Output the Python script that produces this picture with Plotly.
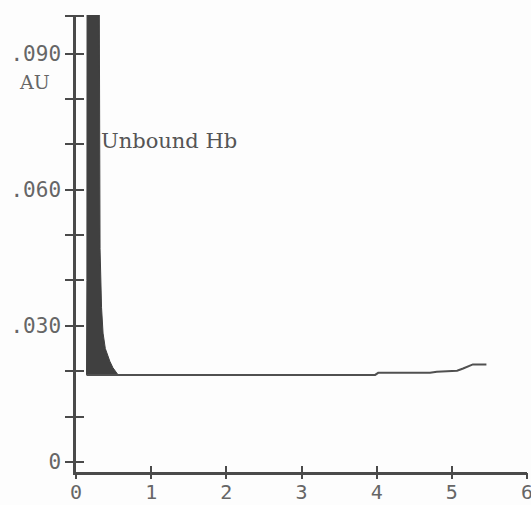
import plotly.graph_objects as go

# Peak (Unbound Hb), filled to the baseline
peak_x = [0.14, 0.145, 0.15, 0.20, 0.29, 0.31, 0.32, 0.34, 0.36, 0.39, 0.42, 0.45, 0.49, 0.52, 0.56]
peak_y = [0.0192, 0.040, 0.200, 0.300, 0.300, 0.100, 0.047, 0.034, 0.0284, 0.0250, 0.0234, 0.0222, 0.0208, 0.0200, 0.0192]

# Baseline trace
base_x = [0.14, 0.56, 3.98, 4.02, 4.71, 4.80, 5.07, 5.15, 5.28, 5.46]
base_y = [0.0192, 0.0192, 0.0192, 0.01965, 0.01965, 0.0199, 0.0201, 0.0206, 0.0215, 0.0215]

x_ticks = [0, 1, 2, 3, 4, 5, 6]
x_labels = ["0", "1", "2", "3", "4", "5", "6"]
y_ticks = [0, 0.01, 0.02, 0.03, 0.04, 0.05, 0.06, 0.07, 0.08, 0.09, 0.0982]
y_labels = ["0", "", "", ".030", "", "", ".060", "", "", ".090", ""]

X_RANGE = [0, 6]
Y_RANGE = [-0.0022, 0.0985]

AXC = "#4a4a4a"
TXC = "#666666"

fig = go.Figure()
fig.add_trace(go.Scatter(x=peak_x, y=peak_y, mode="lines", fill="toself",
                         fillcolor="#404040", line=dict(color="#404040", width=1),
                         hoverinfo="skip", showlegend=False))
fig.add_trace(go.Scatter(x=base_x, y=base_y, mode="lines",
                         line=dict(color="#505050", width=2),
                         hoverinfo="skip", showlegend=False))
# invisible trace for the overlay axes (other half of the crossing ticks)
fig.add_trace(go.Scatter(x=[1], y=[0.05], xaxis="x2", yaxis="y2", mode="markers",
                         marker=dict(opacity=0), hoverinfo="skip", showlegend=False))

tickfont = dict(family="DejaVu Sans Mono", size=21, color=TXC)
xtickfont = dict(family="DejaVu Sans Mono", size=20, color=TXC)

fig.update_layout(
    width=531, height=505,
    margin=dict(l=76, r=4, t=15, b=33, autoexpand=False),
    paper_bgcolor="#fdfdfd", plot_bgcolor="#fdfdfd",
    xaxis=dict(range=X_RANGE, tickvals=x_ticks, ticktext=x_labels,
               ticks="inside", ticklen=6, tickwidth=2, tickcolor=AXC,
               showline=True, linecolor=AXC, linewidth=2.5, automargin=False,
               ticklabeloverflow="allow", ticklabelstandoff=0,
               showgrid=False, zeroline=False, tickfont=xtickfont),
    yaxis=dict(range=Y_RANGE, tickvals=y_ticks, ticktext=y_labels,
               ticks="outside", ticklen=8, tickwidth=2, tickcolor=AXC,
               showline=True, linecolor=AXC, linewidth=2.5, automargin=False,
               ticklabeloverflow="allow",
               showgrid=False, zeroline=False, tickfont=tickfont),
    xaxis2=dict(range=X_RANGE, overlaying="x", anchor="y2", tickvals=x_ticks,
                ticks="outside", ticklen=6, tickwidth=2, tickcolor=AXC, automargin=False,
                showticklabels=False, showline=False, showgrid=False, zeroline=False,
                side="bottom"),
    yaxis2=dict(range=Y_RANGE, overlaying="y", anchor="x2", tickvals=y_ticks,
                ticks="inside", ticklen=8, tickwidth=2, tickcolor=AXC, automargin=False,
                showticklabels=False, showline=False, showgrid=False, zeroline=False,
                side="left"),
    annotations=[
        dict(text="AU", xref="paper", yref="y", x=-0.091, y=0.0838,
             showarrow=False, xanchor="center", yanchor="middle",
             font=dict(family="DejaVu Serif", size=19, color=TXC)),
        dict(text="Unbound Hb", xref="x", yref="y", x=0.31, y=0.0708,
             showarrow=False, xanchor="left", yanchor="middle",
             font=dict(family="DejaVu Serif", size=21, color="#555555")),
    ],
)

fig.write_html("out.html")
